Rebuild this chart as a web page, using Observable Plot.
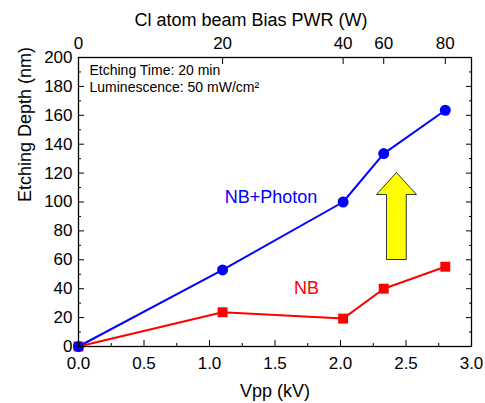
<!DOCTYPE html>
<html>
<head>
<meta charset="utf-8">
<script src="https://cdn.jsdelivr.net/npm/d3@7"></script>
<script src="https://cdn.jsdelivr.net/npm/@observablehq/plot@0.6"></script>
<style>
  html, body { margin: 0; padding: 0; background: #fff; }
  #chart svg { font-family: "Liberation Sans", Arial, sans-serif; }
</style>
</head>
<body>
<div id="chart"></div>
<script>
// Data
const vpp = [0, 1.1, 2.02, 2.33, 2.8];            // Vpp (kV)
const biasPower = [0, 20, 40, 60, 80];             // Cl atom beam bias PWR (W), top axis
const depthNBPhoton = [0, 53, 100, 133.5, 163.5];  // Etching depth (nm), NB+Photon
const depthNB = [0, 23.7, 19.3, 40, 55.2];         // Etching depth (nm), NB
const xTicks = [0, 0.5, 1.0, 1.5, 2.0, 2.5, 3.0];
const xMinor = d3.range(0.25, 3, 0.5);
const yTicks = d3.range(0, 201, 20);
const yMinor = d3.range(10, 200, 20);
// Annotation arrow outline (data units)
const arrowX = [2.427, 2.580, 2.502, 2.502, 2.351, 2.351, 2.274, 2.427];
const arrowY = [120.4, 105.2, 105.2, 60.2, 60.2, 105.2, 105.2, 120.4];

const nbPhoton = vpp.map((x, i) => ({x, y: depthNBPhoton[i]}));
const nb = vpp.map((x, i) => ({x, y: depthNB[i]}));
const arrow = arrowX.map((x, i) => ({x, y: arrowY[i]}));
const powerLabel = new Map(vpp.map((v, i) => [v, String(biasPower[i])]));

const fs = 17;
const plot = Plot.plot({
  width: 485,
  height: 403,
  marginLeft: 78,
  marginRight: 14,
  marginTop: 57,
  marginBottom: 57,
  style: {fontFamily: '"Liberation Sans", Arial, sans-serif', background: "#fff"},
  x: {domain: [0, 3]},
  y: {domain: [0, 200]},
  marks: [
    Plot.line(arrow, {x: "x", y: "y", fill: "#ffff00", stroke: "#333", strokeWidth: 1, curve: "linear"}),
    Plot.line(nbPhoton, {x: "x", y: "y", stroke: "#0000ff", strokeWidth: 2}),
    Plot.line(nb, {x: "x", y: "y", stroke: "#ff0000", strokeWidth: 2}),
    Plot.dot(nb, {x: "x", y: "y", symbol: "square", r: 5.6, fill: "#ff0000"}),
    Plot.dot(nbPhoton, {x: "x", y: "y", symbol: "circle", r: 5.5, fill: "#0000ff"}),
    // bottom axis
    Plot.axisX(xTicks, {anchor: "bottom", tickSize: -6, tickPadding: 16, fontSize: fs, tickFormat: d3.format(".1f"), label: null}),
    Plot.axisX(xMinor, {anchor: "bottom", tickSize: -3, tickFormat: () => "", label: null}),
    // top axis
    Plot.axisX(vpp, {anchor: "top", tickSize: -6, tickPadding: 15, fontSize: fs, tickFormat: d => powerLabel.get(d), label: null}),
    // left axis
    Plot.axisY(yTicks, {anchor: "left", tickSize: -6, tickPadding: 12, fontSize: fs, label: null}),
    Plot.axisY(yMinor, {anchor: "left", tickSize: -3, tickFormat: () => "", label: null}),
    // right axis
    Plot.axisY(yTicks, {anchor: "right", tickSize: -6, tickFormat: () => "", label: null}),
    Plot.axisY(yMinor, {anchor: "right", tickSize: -3, tickFormat: () => "", label: null}),
    Plot.frame({stroke: "#000", strokeWidth: 1.3}),
    // axis titles
    Plot.text(["Vpp (kV)"], {frameAnchor: "bottom", dy: 50, fontSize: 18}),
    Plot.text(["Etching Depth (nm)"], {frameAnchor: "left", dx: -53, rotate: -90, fontSize: 18}),
    Plot.text(["Cl atom beam Bias PWR (W)"], {frameAnchor: "top", dx: -24, dy: -44, fontSize: 18}),
    // annotations
    Plot.text(["Etching Time: 20 min"], {frameAnchor: "top-left", dx: 11, dy: 8, fontSize: 14, textAnchor: "start", lineAnchor: "top"}),
    Plot.text(["Luminescence: 50 mW/cm²"], {frameAnchor: "top-left", dx: 11, dy: 25, fontSize: 14, textAnchor: "start", lineAnchor: "top"}),
    Plot.text(["NB+Photon"], {x: [1.47], y: [103], fill: "#0000ff", fontSize: 18}),
    Plot.text(["NB"], {x: [1.74], y: [40], fill: "#ff0000", fontSize: 18})
  ]
});
document.getElementById("chart").appendChild(plot);
</script>
</body>
</html>
